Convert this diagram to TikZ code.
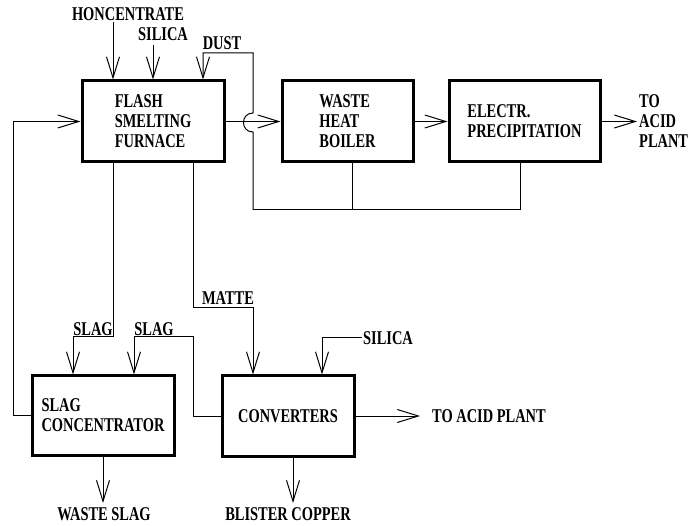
\documentclass[tikz,border=0pt]{standalone}
\usepackage{fontspec}
\setmainfont{Liberation Serif}[FakeStretch=0.74]
\usetikzlibrary{arrows.meta}
\begin{document}
\begin{tikzpicture}[x=1pt,y=-1pt,
  every node/.style={font=\fontsize{19.5}{20}\selectfont\bfseries, inner sep=0pt},
  box/.style={draw, line width=3pt, align=left},
  lbl/.style={align=left},
  conn/.style={line width=1pt},
  arr/.style={conn, -{Straight Barb[length=21pt,width=13pt,line width=1pt]}}]
\useasboundingbox (0,0) rectangle (688,526);
% boxes
\node[box, minimum width=142pt, minimum height=81pt] (fsf) at (153,121.5) {FLASH\\SMELTING\\FURNACE};
\node[box, minimum width=131pt, minimum height=81pt] (whb) at (347.5,121.5) {WASTE\\HEAT\\BOILER};
\node[box, minimum width=151pt, minimum height=81pt] (ep) at (524.5,121.5) {ELECTR.\\PRECIPITATION};
\node[box, minimum width=142pt, minimum height=79pt] (sc) at (103,415.5) {SLAG\\CONCENTRATOR};
\node[box, minimum width=132pt, minimum height=80pt] (conv) at (288,416) {CONVERTERS};
% labels
\node (conc) at (128,14) {HONCENTRATE};
\node (sil1) at (163,34) {SILICA};
\node (dust) at (222,43) {DUST};
\node[lbl, anchor=west] (acid1) at (639,121.5) {TO\\ACID\\PLANT};
\node (slag1) at (93,329) {SLAG};
\node (slag2) at (154,329) {SLAG};
\node (matte) at (228,298) {MATTE};
\node[anchor=west] (sil2) at (363,338) {SILICA};
\node[anchor=west] (acid2) at (432,416) {TO ACID PLANT};
\node (waste) at (104,514) {WASTE SLAG};
\node (blister) at (288,514) {BLISTER COPPER};
% coordinates
\coordinate (c1) at (113,22);
\coordinate (s1) at (153,45);
\coordinate (d1) at (203,53);
\coordinate (d2) at (253,53);
\coordinate (h1) at (253,113);
\coordinate (h2) at (253,132);
\coordinate (d0) at (253,210);
\coordinate (b1) at (352,210);
\coordinate (b2) at (520,210);
\coordinate (a1) at (637,121.5);
\coordinate (L1) at (13,415.5);
\coordinate (g1) at (113,337);
\coordinate (g2) at (73,337);
\coordinate (m1) at (193,308);
\coordinate (m2) at (253,308);
\coordinate (r1) at (193,416);
\coordinate (r2) at (193,337);
\coordinate (r3) at (134,337);
\coordinate (q1) at (362,338);
\coordinate (q2) at (322,338);
\coordinate (a2) at (420,416);
\coordinate (w1) at (103,503);
\coordinate (k1) at (293,503);
% feeds to furnace
\draw[arr] (c1) -- (c1 |- fsf.north);
\draw[arr] (s1) -- (s1 |- fsf.north);
\draw[arr] (d0) -- (h2) .. controls (240.3,132) and (240.3,113) .. (h1) -- (d2) -- (d1) -- (d1 |- fsf.north);
% gas line
\draw[arr] (fsf.east) -- (whb.west);
\draw[arr] (whb.east) -- (ep.west);
\draw[arr] (ep.east) -- (a1);
\draw[conn] (b1 |- whb.south) -- (b1);
\draw[conn] (b2 |- ep.south) -- (b2) -- (d0);
% return loop
\draw[arr] (sc.west) -- (L1) -- (L1 |- fsf.west) -- (fsf.west);
% slag and matte
\draw[arr] (g1 |- fsf.south) -- (g1) -- (g2) -- (g2 |- sc.north);
\draw[arr] (m1 |- fsf.south) -- (m1) -- (m2) -- (m2 |- conv.north);
\draw[arr] (conv.west) -- (r1) -- (r2) -- (r3) -- (r3 |- sc.north);
\draw[arr] (q1) -- (q2) -- (q2 |- conv.north);
\draw[arr] (conv.east) -- (a2);
\draw[arr] (w1 |- sc.south) -- (w1);
\draw[arr] (k1 |- conv.south) -- (k1);
\end{tikzpicture}
\end{document}
